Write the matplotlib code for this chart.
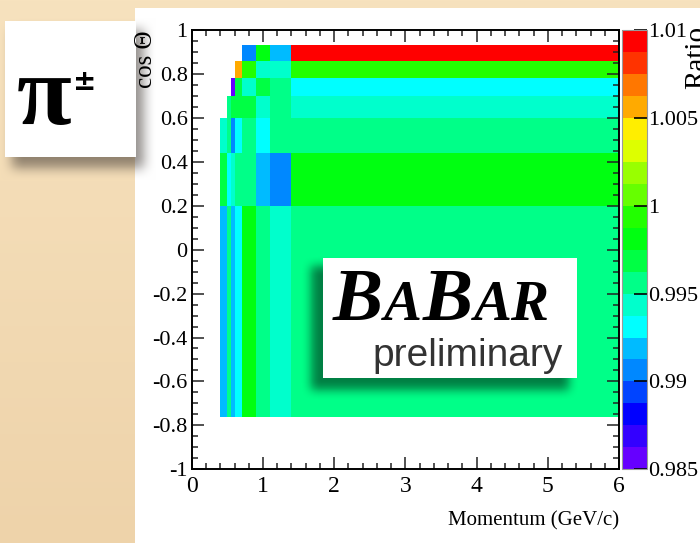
import numpy as np
import matplotlib
matplotlib.use("Agg")
import matplotlib.pyplot as plt
from matplotlib.colors import ListedColormap, BoundaryNorm
from matplotlib.ticker import MultipleLocator, FuncFormatter

plt.rcParams["axes.unicode_minus"] = False

W, H, DPI = 700, 543, 100
SERIF = "Liberation Serif"

# ---- binning and ratio values -------------------------------------------
p_edges = [0.4, 0.5, 0.55, 0.6, 0.7, 0.9, 1.1, 1.4, 6.0]          # GeV/c
cos_edges = [-0.76, 0.2, 0.44, 0.6, 0.7, 0.78, 0.86, 0.93]        # cos(theta)

nan = np.nan
ratio_m076_020 = [0.9919, 0.9956, 0.9919, 0.9931, 0.9981, 0.9956, 0.9944, 0.9956]
ratio_020_044 = [0.9969, 0.9931, 0.9944, 0.9956, 0.9956, 0.9919, 0.9906, 0.9981]
ratio_044_060 = [0.9944, 0.9956, 0.9906, 0.9931, 0.9956, 0.9931, 0.9956, 0.9956]
ratio_060_070 = [nan, 0.9956, 0.9969, 0.9969, 0.9969, 0.9944, 0.9956, 0.9944]
ratio_070_078 = [nan, nan, 0.9856, 0.9969, 0.9944, 0.9969, 0.9956, 0.9931]
ratio_078_086 = [nan, nan, nan, 1.0056, 0.9994, 0.9944, 0.9944, 0.9994]
ratio_086_093 = [nan, nan, nan, nan, 0.9906, 0.9981, 0.9919, 1.0094]

z_min, z_max, n_levels = 0.985, 1.01, 20
cbar_ticks = [0.985, 0.99, 0.995, 1.0, 1.005, 1.01]
cbar_labels = ["0.985", "0.99", "0.995", "1", "1.005", "1.01"]

palette = ["#6600ff", "#3300ff", "#0000ff", "#0044ff", "#0088ff",
           "#00bbff", "#00ffff", "#00ffcc", "#00ff88", "#00ff44",
           "#00ff11", "#22ff00", "#66ff00", "#99ff00", "#ddff00",
           "#ffee00", "#ffaa00", "#ff7700", "#ff3300", "#ff0000"]

ratio = np.ma.masked_invalid(np.array([
    ratio_m076_020, ratio_020_044, ratio_044_060, ratio_060_070,
    ratio_070_078, ratio_078_086, ratio_086_093]))


# ---- helpers for the slide decoration -----------------------------------
def blur(a, r):
    k = 2 * r + 1
    for axis in (0, 1):
        pad = [(0, 0), (0, 0)]
        pad[axis] = (r + 1, r)
        c = np.cumsum(np.pad(a, pad), axis=axis)
        a = (c[k:] - c[:-k]) / k if axis == 0 else (c[:, k:] - c[:, :-k]) / k
    return a


def rect_mask(x0, y0, x1, y1):
    m = np.zeros((H, W))
    m[y0:y1, x0:x1] = 1.0
    return m


def soft(x0, y0, x1, y1, r):
    m = rect_mask(x0, y0, x1, y1)
    for _ in range(2):
        m = blur(m, r)
    return m


# slide background: beige, white panel, pi box with drop shadow
rows = np.linspace(0, 1, H)[:, None, None]
top_c = np.array([247, 226, 190]) / 255
bot_c = np.array([238, 211, 170]) / 255
bg = np.broadcast_to(top_c + (bot_c - top_c) * rows, (H, W, 3)).copy()
panel = rect_mask(135, 8, W, H)[..., None]
bg = bg * (1 - panel) + panel
sh = soft(12, 30, 144, 168, 6)[..., None] * 0.55
bg = bg * (1 - sh) + np.array([0.25, 0.22, 0.2]) * sh
pibox = rect_mask(5, 21, 136, 157)[..., None]
bg = bg * (1 - pibox) + pibox

fig = plt.figure(figsize=(W / DPI, H / DPI), dpi=DPI)
fig.figimage(bg, 0, 0, zorder=-2, origin="upper")

# ---- the 2D ratio map -----------------------------------------------------
cmap = ListedColormap(palette)
norm = BoundaryNorm(np.linspace(z_min, z_max, n_levels + 1), cmap.N)

ax = fig.add_axes([191.8 / W, (H - 469.3) / H, (619 - 191.8) / W, (469.3 - 30) / H])
ax.set_facecolor("white")
mesh = ax.pcolormesh(p_edges, cos_edges, ratio, cmap=cmap, norm=norm,
                     edgecolors="none", antialiased=False)
ax.set_xlim(0, 6)
ax.set_ylim(-1, 1)
ax.xaxis.set_major_locator(MultipleLocator(1))
ax.xaxis.set_minor_locator(MultipleLocator(0.2))
ax.yaxis.set_major_locator(MultipleLocator(0.2))
ax.yaxis.set_minor_locator(MultipleLocator(0.05))
ax.yaxis.set_major_formatter(FuncFormatter(lambda v, _: "%g" % round(v, 2)))
ax.xaxis.set_major_formatter(FuncFormatter(lambda v, _: "%g" % round(v, 2)))
ax.tick_params(which="both", direction="in", top=True, right=True, width=1.1, color="#222222")
ax.tick_params(which="major", length=8.5)
ax.tick_params(which="minor", length=4)
ax.tick_params(axis="y", pad=3)
ax.tick_params(axis="x", pad=5)
for lab in ax.get_xticklabels():
    lab.set_fontfamily(SERIF)
    lab.set_fontsize(17)
for lab in ax.get_yticklabels():
    lab.set_fontfamily(SERIF)
    lab.set_fontsize(16)
for s in ax.spines.values():
    s.set_linewidth(1.4)

# colour scale
cax = fig.add_axes([621.5 / W, (H - 469.3) / H, 25.5 / W, (469.3 - 30) / H])
cb = fig.colorbar(mesh, cax=cax)
cb.set_ticks(cbar_ticks)
cb.set_ticklabels(cbar_labels)
cb.minorticks_off()
cb.outline.set_edgecolor("#9a9a9a")
cb.outline.set_linewidth(0.8)
cax.tick_params(direction="in", length=9.5, width=1.2, pad=1, right=True, left=False)
for lab in cax.get_yticklabels():
    lab.set_fontfamily(SERIF)
    lab.set_fontsize(16)

# axis titles
fig.text(146 / W, 1 - 31 / H, "cos \u0398", rotation=90, ha="center", va="top",
         family=SERIF, fontsize=18)
fig.text(619 / W, 1 - 511 / H, "Momentum (GeV/c)", ha="right", va="top",
         family=SERIF, fontsize=15)
fig.text(684 / W, 1 - 26 / H, "Ratio", rotation=90, ha="left", va="top",
         family=SERIF, fontsize=21)

# particle label
fig.text(44 / W, 1 - 124 / H, "\u03c0", ha="center", va="baseline",
         family=SERIF, weight="bold", fontsize=72, zorder=6)
fig.text(73 / W, 1 - 68 / H, "\u00b1", ha="left", va="top",
         family="DejaVu Sans", weight="bold", fontsize=20, zorder=6)

# experiment logo box with its shadow, drawn over the map
ov = np.zeros((H, W, 4))
lsh = soft(311, 266, 569, 390, 5) * 0.5
ov[..., 3] = lsh
lbox = rect_mask(323, 258, 577, 378)
ov[..., :3] = lbox[..., None]
ov[..., 3] = np.maximum(ov[..., 3], lbox)
fig.figimage(ov, 0, 0, zorder=4, origin="upper")

renderer = fig.canvas.get_renderer()
x = 333.0
for s, size in [("B", 54), ("A", 41), ("B", 54), ("AR", 41)]:
    t = fig.text(x / W, 1 - 320 / H, s, ha="left", va="baseline", family=SERIF,
                 weight="bold", style="italic", fontsize=size, zorder=6)
    x = t.get_window_extent(renderer).x1 + 1
fig.text(563 / W, 1 - 366 / H, "preliminary", ha="right", va="baseline",
         family="Liberation Sans", fontsize=28, color="#333333", zorder=6)

fig.savefig("out.png", dpi=DPI)
